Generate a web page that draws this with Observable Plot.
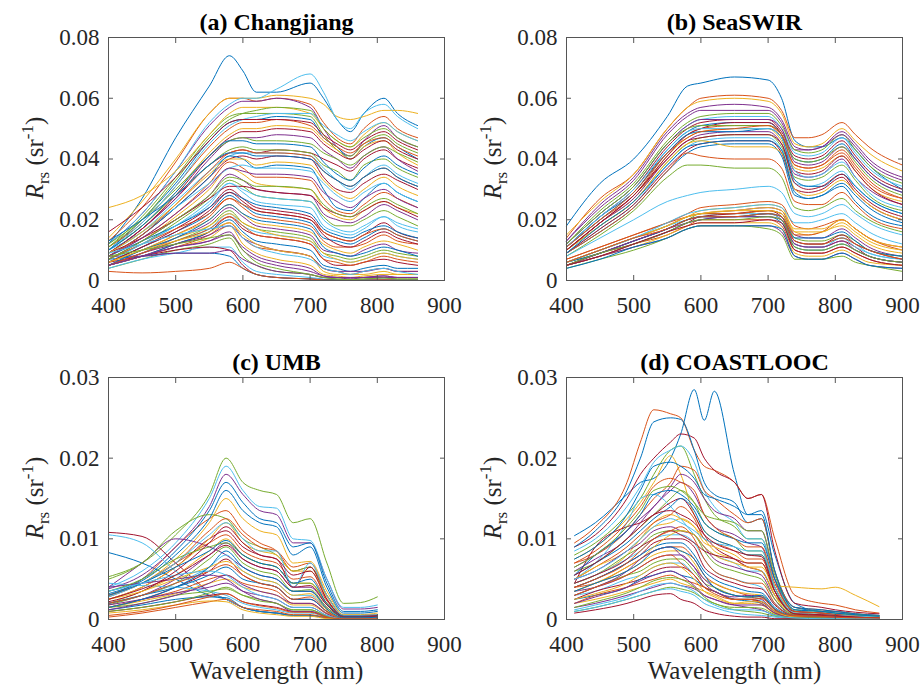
<!DOCTYPE html>
<html>
<head>
<meta charset="utf-8">
<script src="https://cdn.jsdelivr.net/npm/d3@7"></script>
<script src="https://cdn.jsdelivr.net/npm/@observablehq/plot@0.6"></script>
<style>
  html, body { margin: 0; padding: 0; background: #fff; }
  #fig { position: relative; width: 921px; height: 687px; background: #fff; overflow: hidden; }
  .panel { position: absolute; }
  .ylab { position: absolute; font-family: "Liberation Serif", Tinos, "Times New Roman", Times, "DejaVu Serif", "Noto Serif", serif; font-size: 25px; color: #262626;
          white-space: nowrap; transform: translate(-50%, -50%) rotate(-90deg); line-height: 1; }
  .ylab sub, .ylab sup { font-size: 17px; line-height: 0; }
</style>
</head>
<body>
<div id="fig"></div>
<script>
// ---------------- data (Rrs values in units of 1e-3 sr^-1) ----------------
const titles = ["(a) Changjiang", "(b) SeaSWIR", "(c) UMB", "(d) COASTLOOC"];
const xLabel = "Wavelength (nm)";
const xTicks = [400, 500, 600, 700, 800, 900];
const yTicksTop = [0, 0.02, 0.04, 0.06, 0.08];
const yTicksBottom = [0, 0.01, 0.02, 0.03];
const palette = ["#0072BD", "#D95319", "#EDB120", "#7E2F8E", "#77AC30", "#4DBEEE", "#A2142F"];

// (a) Changjiang
const wlA = [400, 450, 500, 550, 580, 600, 620, 650, 700, 720, 740, 760, 780, 810, 830, 860];
const rrsA = [
  [12,27,47,64,74,69,62,62,65,60,53,49,55,60,55,51],
  [13,24,39,55,60,60,59,60,58,52,47,45,50,54,50,47],
  [14,26,40,55,60,60,60,61,60,58,54,53,54,56,56,55],
  [12,22,36,51,57,59,59,60,57,50,44,41,46,51,47,44],
  [11,21,34,48,54,55,55,55,54,48,43,41,45,48,45,42],
  [12,22,36,52,58,60,60,63,68,62,53,50,55,58,54,50],
  [9,17,27,38,42,43,42,43,42,40,38,36,40,43,40,37],
  [10,20,32,46,52,53,53,54,53,47,44,40,44,47,44,40],
  [11,19,31,44,50,52,52,53,51,47,44,42,45,47,44,41],
  [10,18,29,42,48,50,50,51,50,46,43,40,44,46,42,38],
  [9,17,27,40,46,47,47,48,47,43,40,37,41,44,40,36],
  [10,18,28,38,43,44,43,43,42,38,36,33,38,40,37,34],
  [9,16,26,36,41,42,42,42,41,37,33,30,34,38,35,32],
  [8,15,24,34,40,41,40,41,40,34,30,29,32,35,33,30],
  [8,15,24,34,41,40,37,38,37,30,24,23,27,32,29,26],
  [8,14,22,32,39,37,34,34,33,27,23,22,25,29,27,24],
  [7,13,21,30,37,35,32,31,30,24,21,20,23,26,24,22],
  [7,13,20,28,35,33,30,29,28,22,20,19,21,25,23,20],
  [7,12,19,27,33,31,28,27,26,21,18,18,20,23,21,18],
  [7,12,18,25,32,29,26,25,24,18,16,15,17,21,18,16],
  [6,11,17,24,30,27,24,23,21,16,14,13,15,19,16,14],
  [6,11,16,22,28,25,22,21,19,14,13,12,14,17,15,13],
  [6,10,15,21,27,24,21,20,18,13,11,11,12,15,13,12],
  [6,10,15,20,25,22,19,18,16,12,10,9,11,13,12,10],
  [5,9,14,19,24,21,18,17,15,10,9,8,10,12,10,9],
  [5,9,13,18,23,19,17,16,14,9,8,7,8,10,9,8],
  [5,9,13,17,22,18,16,15,13,8,7,6,7,9,8,7],
  [5,8,12,16,21,17,15,14,12,7,5,5,6,7,6,5],
  [5,8,12,16,20,16,13,12,10,5,4,3,4,5,4,4],
  [5,8,11,15,19,14,11,10,8,4,3,2,3,4,3,3],
  [5,8,11,14,18,12,9,7,5,2,1.5,1,1.5,2,2,2],
  [5,8,11,13,16,10,7,5,3,1.5,1,0.5,1,1.5,1,1],
  [4,7,10,12,14,8,5,3,2,1,0.5,0.3,0.5,1,0.5,0.5],
  [4,7,9,11,11,6,3,2,1,0.5,0.3,0.2,0.3,0.5,0.3,0.3],
  [6,8,10,11,10,5,2,1,0.5,0.2,0.1,0.1,0.1,0.2,0.1,0.1],
  [7,8,9,9,8,4,2,1,0.5,0.3,0.2,0.1,0.1,0.1,0.1,0.1],
  [3,2.5,3,4,6,4,2,1,0.5,0.2,0.1,0.1,0.1,0.2,0.1,0.1],
  [24,28,36,48,55,57,57,57,55,50,46,44,48,52,49,46],
  [8,8,9,9,10,7,5,3,2,1,1,1,1,1,1,1],
  [12,20,30,41,46,47,46,46,45,42,40,38,41,44,42,39],
  [10,16,24,32,37,38,37,37,36,32,28,26,29,32,29,26],
  [9,14,20,27,31,31,30,29,28,24,22,21,23,26,24,21],
  [8,13,18,24,29,27,25,24,22,17,15,14,16,18,16,14],
  [7,12,17,22,27,25,23,22,20,16,14,13,15,17,15,13],
  [6,10,14,18,22,19,17,15,13,9,7,6,7,9,8,7],
  [5,9,12,15,18,14,12,10,8,4,3,3,3,4,3,3],
  [11,20,33,47,53,55,56,57,56,50,46,44,47,50,47,44],
  [10,19,31,45,51,53,54,55,55,51,48,46,49,52,49,46],
  [9,17,28,41,47,49,49,50,49,45,42,40,43,46,43,40],
  [10,18,29,41,46,46,45,45,44,39,35,33,37,41,38,35],
  [8,15,25,36,42,43,42,42,41,36,33,31,34,37,34,31],
  [9,16,25,35,40,40,38,39,38,33,29,27,30,34,31,28],
  [8,14,22,31,37,36,35,35,34,29,26,24,27,30,27,24],
  [7,13,20,28,34,33,31,31,30,25,22,21,24,27,25,22],
  [6,12,18,26,32,30,28,27,26,20,17,16,18,21,19,17],
  [6,11,16,23,29,26,23,22,20,15,12,11,13,16,14,12],
  [5,10,14,20,25,22,20,19,17,11,9,8,9,11,10,8],
  [5,9,13,17,21,18,15,14,12,7,6,5,6,8,7,6],
  [6,10,13,16,19,15,12,10,8,3,2,2,2,3,2,2],
  [5,8,11,13,15,11,8,6,4,1.5,1,0.8,1,1.5,1,1],
  [8,10,12,14,15,10,6,4,2,1,0.5,0.3,0.5,0.8,0.5,0.5],
  [9,12,15,17,18,14,11,9,7,4,3,2,3,4,3,2],
  [16,24,34,46,52,53,53,53,52,48,45,43,46,49,46,43],
  [13,20,28,38,42,42,41,41,40,36,33,31,34,37,34,31]
];

// (b) SeaSWIR
const wlB = [400, 450, 500, 550, 580, 600, 650, 700, 720, 740, 760, 780, 810, 830, 850, 900];
const rrsB = [
  [18,32,40,54,64,65,67,66,60,46,44,44,47,43,38,30],
  [14,27,35,50,57,60,61,60,56,47,47,48,52,48,44,38],
  [15,26,35,50,57,59,60,59,55,45,44,45,50,46,42,36],
  [13,24,33,48,54,56,56,56,52,43,43,44,49,45,40,34],
  [12,23,32,46,52,54,55,55,51,43,42,43,48,43,38,32],
  [12,22,31,45,51,53,54,54,50,42,41,42,47,42,37,31],
  [11,21,30,44,50,52,53,53,49,41,40,41,46,41,36,30],
  [11,21,29,43,49,51,52,52,48,40,39,40,45,40,35,29],
  [11,20,28,42,48,50,51,51,47,38,37,38,43,38,33,27],
  [10,19,27,41,47,49,50,50,46,37,36,37,41,36,31,26],
  [10,19,27,40,46,48,49,49,45,35,34,35,40,34,30,25],
  [10,18,26,39,45,47,48,48,44,34,33,34,38,33,28,23],
  [9,17,25,38,44,46,47,47,43,32,31,32,36,31,27,22],
  [9,17,25,37,43,45,46,46,42,30,29,30,34,29,25,20],
  [9,16,24,36,42,44,45,45,41,28,27,28,32,28,24,19],
  [9,16,24,36,42,41,40,40,37,26,25,25,29,25,21,17],
  [10,18,26,39,45,46,44,44,42,30,28,29,33,29,25,20],
  [12,22,31,45,51,53,53,53,50,39,38,39,44,40,35,29],
  [8,15,23,34,38,38,37,37,34,24,23,24,27,23,20,16],
  [8,14,20,26,28,29,30,31,29,22,21,22,25,22,19,15],
  [10,19,28,41,48,50,52,52,48,36,35,36,41,36,31,25],
  [11,20,29,42,48,49,49,50,47,33,31,31,35,31,27,22],
  [7,11,15,19,22,24,25,26,25,18,17,18,20,17,14,11],
  [6,10,14,18,21,23,24,25,24,16,15,16,18,15,12,9],
  [6,10,14,18,21,22,23,24,23,15,14,14,17,14,11,8],
  [6,9,13,17,20,22,22,23,22,14,13,13,15,13,10,8],
  [5,9,13,17,20,21,22,22,21,13,12,12,14,12,9,7],
  [5,9,12,16,19,21,21,22,20,12,11,11,13,11,8,6],
  [5,8,12,16,19,20,21,21,19,11,10,10,12,10,8,6],
  [5,8,12,15,18,20,20,20,18,10,9,9,11,9,7,5],
  [5,8,11,15,18,19,19,19,17,9,8,8,10,8,6,5],
  [5,8,11,14,17,18,18,18,16,8,7,7,9,7,5,4],
  [4,7,10,14,17,18,18,17,15,7,7,7,8,6,5,3],
  [6,10,14,18,20,21,21,22,20,12,11,11,14,11,9,7],
  [5,9,13,17,20,21,22,23,21,13,12,12,15,12,10,7],
  [6,9,13,17,20,21,21,22,21,14,14,14,16,13,10,8],
  [7,11,15,19,21,22,22,23,22,15,15,16,20,17,14,10],
  [6,10,14,18,21,22,23,24,23,17,17,17,20,17,14,11],
  [13,25,34,49,55,57,58,57,53,44,43,44,48,44,39,33],
  [12,22,31,45,50,51,51,51,48,40,39,40,44,39,34,28],
  [11,21,30,43,49,50,50,50,47,36,34,35,39,34,29,24],
  [10,19,28,40,46,47,48,48,45,32,30,31,35,30,26,21],
  [9,18,26,38,44,45,46,46,43,29,27,28,31,26,22,18],
  [11,20,29,42,47,49,50,51,48,38,37,38,42,37,32,27],
  [6,10,14,18,21,22,23,23,22,16,16,16,19,16,13,10],
  [5,9,13,17,19,20,21,21,20,12,11,11,13,10,8,6],
  [5,9,12,16,19,20,20,21,20,11,10,10,12,10,8,6],
  [6,10,14,19,22,23,24,25,24,19,19,20,22,19,16,12],
  [5,8,12,16,18,19,19,20,19,10,9,9,11,9,7,5],
  [4,7,11,14,17,18,18,18,17,8,7,7,9,7,5,4],
  [6,10,14,17,20,21,21,22,21,13,12,12,14,12,10,7]
];

// (c) UMB
const wlC = [400, 450, 500, 550, 575, 600, 625, 650, 675, 700, 725, 750, 775, 800];
const rrsC = [
  [8.3,7,5,3,2.5,1.5,1,0.8,0.5,0.5,0.2,0.1,0.1,0.1],
  [3,5,9,12.5,13.5,11,9.5,8.5,6,6.5,3,0.5,0.5,0.6],
  [3,4.5,7.5,12,15,12.5,11,10.5,7,7.2,3.5,0.6,0.6,0.8],
  [3.8,5.5,9,14,18,15.5,13.5,13,9.5,9.5,5,1.3,1.3,1.5],
  [5.3,7,10.5,15.5,20,17,16,15.5,12,12.5,7,2,2.1,2.8],
  [4,6,9.5,15,19,16,14,13.8,10,9.8,5,1.5,1.5,1.8],
  [10.8,10.3,7,3.5,2.5,1.5,1,0.8,0.5,0.5,0.3,0.1,0.1,0.1],
  [3.5,5,8.5,13.5,17,14.5,12.5,12,9,9.5,4.5,1,1,1.2],
  [2.8,4.5,7,9.5,10.5,8.5,7.5,7,5,5.3,2.3,0.4,0.4,0.5],
  [2,3.5,5.5,8.5,10,8,7,6.5,4.5,4.5,2,0.4,0.3,0.4],
  [4,7,10,9,8,6.5,5.5,5,3.5,3.5,1.5,0.3,0.3,0.3],
  [5,7,11,13,12.5,10,9,8,6,6.5,3,0.5,0.5,0.5],
  [10.5,9.5,6,3.5,2.5,1.5,1,0.8,0.5,0.5,0.3,0.1,0.1,0.1],
  [2.5,4,6.5,10,11,9,8,7.5,4,6.5,2.5,0.4,0.4,0.5],
  [3.2,4.8,8,12.5,16,13.5,12,11.5,8,9,4,0.8,0.8,1],
  [3,4.5,7,11,12.5,10.5,9,8.5,6.5,7,3,0.5,0.5,0.6],
  [2.5,4,6.5,10,12,9.5,8.5,8,6,6,2.8,0.5,0.4,0.5],
  [2,3,5,8,9.5,7.5,6.5,6,4,4,1.8,0.3,0.3,0.3],
  [1.8,3,4.5,7.5,9,7,6,5.5,3.5,3.7,1.5,0.3,0.3,0.3],
  [2,3,4.5,6.5,8,6,5,4.5,3,3,1.2,0.3,0.2,0.3],
  [1.5,2.5,4,6,7.5,5.5,4.5,4,2.5,2.5,1,0.2,0.2,0.2],
  [2,3,4,5.5,6.5,5,4.5,4,2.5,2.5,1,0.2,0.2,0.2],
  [1.5,2.5,3.5,5,5.5,4.5,4,3.5,2,2,0.8,0.2,0.2,0.2],
  [1.5,2.3,3.2,4.5,5,4,3.5,3,1.8,1.8,0.7,0.2,0.2,0.2],
  [1.8,2.5,3.3,4,4.5,3.5,3,2.5,1.5,1.5,0.5,0.1,0.1,0.1],
  [1.5,2,3,3.5,3.8,3,2.5,2,1.2,1.2,0.4,0.1,0.1,0.1],
  [4.5,4.2,4,3.5,3,2,1.5,1.2,0.8,0.8,0.3,0.1,0.1,0.1],
  [1,1.5,2.2,3,3.2,2.2,1.8,1.5,1,1,0.3,0.1,0.1,0.1],
  [1.2,1.8,2.5,2.8,2.7,1.5,1,0.8,0.5,0.5,0.2,0.1,0.1,0.1],
  [0.3,0.8,1.5,2.2,2.5,1.5,1.2,1,0.6,0.6,0.2,0.1,0.1,0.1],
  [0.8,1.2,1.8,2.3,2.2,1.2,0.8,0.6,0.4,0.4,0.1,0.05,0.05,0.05],
  [4,4.5,5,5.5,5,3.5,2.5,2,1,1,0.4,0.1,0.1,0.1],
  [3.5,5,7.5,9,9.5,8,7,6.5,4.5,4.5,2,0.3,0.3,0.3],
  [2.8,4.5,7,10.5,12,10,8.5,8.5,4,7,3,0.5,0.5,0.6],
  [2.2,3.5,6,9.5,11.5,9.5,8,7.5,5.5,6,2.5,0.4,0.4,0.5],
  [3,4.5,6.5,8.5,9.8,8,7,6.5,4.5,5,2,0.4,0.4,0.4],
  [2,3,4.5,6,6.8,5.5,4.5,4,2.5,2.8,1,0.2,0.2,0.2],
  [2.5,3.5,5,6.5,7.2,6,5,4.5,3,3.2,1.2,0.2,0.2,0.3],
  [1.2,2,3,4.5,5.5,4.3,3.5,3,2,2,0.7,0.1,0.1,0.2],
  [1,1.5,2.2,3.3,4,3,2.3,2,1.2,1.2,0.4,0.1,0.1,0.1],
  [3.5,4.5,5.5,6,5.5,4,3,2.5,1.5,1.5,0.5,0.1,0.1,0.1],
  [2.5,3.8,5.5,8,9.2,7.5,6.5,6,4,4.2,1.8,0.3,0.3,0.4],
  [1.5,2.5,4,6.5,8.5,6.5,5.5,5,3.5,3.5,1.3,0.2,0.2,0.3],
  [0.5,1,1.8,2.8,3.2,2.2,1.7,1.4,0.9,0.9,0.3,0.1,0.1,0.1]
];

// (d) COASTLOOC
const wlD = [412, 443, 490, 510, 530, 555, 570, 590, 605, 620, 650, 670, 690, 710, 740, 780, 800, 830, 865];
const rrsD = [
  [10.4,12,15.5,17,17.5,20,23,28.5,24.7,28.3,18,13,13.5,8,2,1,1,0.7,0.5],
  [9.5,11.5,17,22,26,25.5,25,21,19,18.5,17,15,15.5,10,3,2,1.8,1.2,0.8],
  [7.5,9,12.5,14.5,17,20.3,18,13,11,10,9,8,8,4,1,0.8,0.6,0.4,0.3],
  [6,7.5,10,12,14,16,17,15.5,13,11.5,10.5,9.5,9,4,0.8,0.6,0.5,0.4,0.3],
  [8,9.5,13,15,18,21,21.5,18,15,13,11.5,10,10,5,1,0.8,0.6,0.5,0.4],
  [8.5,10,14,16.5,19.5,21,21.5,19.5,16,14,12,10,10,5,1.2,1,0.8,0.6,0.4],
  [9,10.5,15,18,20,22,23,22.5,20,18.5,17,15,15.5,8.5,2,1.5,1.2,0.9,0.7],
  [9,11,16,20,24.5,25,24.8,21,17,15.5,14.5,12,12.5,6,1.5,1,0.8,0.6,0.5],
  [7,8,11,13,15,17,19,18.5,16,15,13,12,12.5,6,1.5,1.2,1,0.7,0.5],
  [4.5,5.5,8,10,12,13,12.5,11.5,10,8.5,7.5,6.5,6.5,4.2,4,3.8,4,3,1.6],
  [6.5,8,11,12.5,14,16.5,18,17,15,13.5,12.5,11,11,5,1,0.8,0.6,0.4,0.3],
  [6,7,10,11.5,13,15,16,14.5,12,11,10,8.5,8.5,4,0.8,0.6,0.5,0.4,0.3],
  [5,7,12,15,15.5,14,12.5,10.5,9,8,7,6,6,3,1,0.8,0.6,0.4,0.3],
  [4.5,9,11.5,12,13,14.5,15,13,10.5,9,7.5,6.5,6,3,1,0.8,0.6,0.4,0.3],
  [5.5,7,9.5,11,12.5,14,15,13.5,11,10,9,8,8,3.5,0.7,0.6,0.5,0.3,0.2],
  [5,6.5,9,10.5,12,13,14,12.5,10,9.5,8.5,7.5,7.5,3.5,0.7,0.5,0.4,0.3,0.2],
  [5,6.5,8.5,10,11.5,12,12.5,11.5,9.5,9,8,7,7,3,0.6,0.5,0.4,0.3,0.2],
  [5,6,8.5,9.5,11,11.5,11,10.5,9,7.5,6.5,6,5.5,2.5,0.5,0.4,0.3,0.2,0.2],
  [4.5,5.5,8,9,10.5,11,11,10.5,8.5,7,6,5.5,5,2.5,0.6,0.5,0.4,0.3,0.2],
  [4.5,5.5,7.5,8.5,10,10.5,10.5,9.5,7.5,6,5,4.5,4,2,0.5,0.4,0.3,0.2,0.2],
  [4,5,7,8,9.5,10,10,9,6.5,5.5,4.5,4,3.8,1.8,0.5,0.4,0.3,0.2,0.2],
  [4,5,7,8,9,9.5,9.5,8,6,5,4,3.5,3.3,1.5,0.5,0.4,0.3,0.2,0.2],
  [4,4.5,6.5,7.5,8.5,9,9,7.5,5.5,4.5,3.5,3,2.8,1.3,0.4,0.3,0.3,0.2,0.2],
  [3.5,4.5,6,7,8,8.5,8.5,7,5,4.5,3.5,3.2,3,1.3,0.4,0.3,0.3,0.2,0.2],
  [3.5,4,5.5,6.5,7.5,8,8,6.5,5,4,3,2.8,2.5,1,0.4,0.3,0.2,0.2,0.1],
  [3,4,5.5,6,7,7.5,7.5,6,4.5,4,3,2.8,2.8,1.2,0.3,0.3,0.2,0.2,0.1],
  [3,3.5,5,5.5,6.5,7,7,5.5,4,3.5,2.5,2.5,2.3,1,0.3,0.3,0.2,0.2,0.1],
  [2.5,3.5,4.5,5,6,6.5,6.5,5.5,4,3.5,2.5,2.5,2.2,1,0.3,0.2,0.2,0.2,0.1],
  [2.5,3,4,5,5.5,6,5.5,5,4,3.5,2.5,2.3,2,0.8,0.3,0.2,0.2,0.2,0.1],
  [2,3,4,4.5,5,5.5,5,4.5,4,3.5,2.5,2.5,2,0.8,0.3,0.2,0.2,0.2,0.1],
  [2,2.5,3.5,4,4.5,5,4.5,4,3.5,3,2,2,1.8,0.7,0.2,0.2,0.1,0.1,0.1],
  [1.5,2,3,3.5,4,4.5,4.2,3.8,3,2.5,1.8,1.5,1.2,0.5,0.2,0.1,0.1,0.1,0.1],
  [1,1.5,2.5,3,3.5,4,3.8,3.3,2.5,2,1.2,1,0.8,0.4,0.2,0.1,0.1,0.1,0.1],
  [1,1.5,2.5,3,3.5,3.8,3.5,3,2,1.5,0.8,0.6,0.5,0.3,0.1,0.1,0.1,0.1,0.1],
  [0.8,1.2,2,2.5,3,3.2,2.5,2,1.2,0.8,0.4,0.3,0.3,0.1,0.1,0.1,0.1,0.1,0.1],
  [5.5,8,11,13,15.5,16,15.5,14,12,11,10,9.5,9.5,5,1.5,1.2,1,0.7,0.5],
  [7,8.5,12,14,16.5,17.5,17,16,13,11.5,10,9,9,4.5,1,0.8,0.6,0.4,0.3],
  [3.5,4.5,6.5,7.5,9,10.5,11,10.5,9,8,7,6.5,6,3,0.8,0.6,0.5,0.4,0.3],
  [3,4,6,7.5,8.5,9,8,6.5,4.5,3.5,2.8,3,2.8,1.2,0.4,0.3,0.2,0.2,0.1],
  [6.5,8,11.5,13.5,16,16.5,16,14.5,13,12.5,12,11,11,5.5,1.2,1,0.8,0.6,0.4],
  [5,6,8.5,10,11.5,12.5,12,11,10,9.5,9,8.5,8.5,4,0.8,0.6,0.5,0.4,0.3],
  [4.5,5.5,7.5,9,10,11,10.5,9.5,8.5,8,7.5,7,7,3.5,0.7,0.6,0.5,0.3,0.2],
  [3.5,4.5,6,7,8.5,9,8.5,7.5,5.5,4,3,2.8,3,1.3,0.4,0.3,0.3,0.2,0.1],
  [3,4,5.5,6.5,7.5,8,7,5.5,4,3.2,2.5,2.5,2.6,1.2,0.4,0.3,0.2,0.2,0.1],
  [2.5,3.2,4.5,5.5,6.5,7,6.5,5,3.5,2.8,2,2.2,2.2,1,0.3,0.2,0.2,0.1,0.1],
  [2,2.8,4,4.8,5.5,6,5.5,4.2,3,2.5,1.8,1.8,1.8,0.8,0.2,0.2,0.2,0.1,0.1],
  [1.5,2.2,3.3,4,4.8,5.2,5,4,2.8,2,1.5,1.5,1.4,0.6,0.2,0.2,0.1,0.1,0.1],
  [1.2,1.8,2.8,3.5,4.2,4.5,4.2,3.5,2.5,1.8,1.2,1.2,1.1,0.5,0.2,0.1,0.1,0.1,0.1],
  [5.5,7,10,11.5,13,13.5,13,12,10.5,9.5,8.5,8,7.8,3.5,0.7,0.5,0.4,0.3,0.2],
  [7.5,9,13,16,19,19.5,19,17.5,15.5,15,14,13,13,6,1.2,1,0.8,0.6,0.4],
  [4,5,7,8.5,10,11,11.5,10,7.5,6,5,4.5,4.5,2,0.5,0.4,0.3,0.2,0.2]
];

// ---------------- drawing ----------------
const UNIT = 1000; // stored values are in 1e-3 sr^-1
const FONT = "\"Liberation Serif\", Tinos, \"Times New Roman\", Times, \"DejaVu Serif\", \"Noto Serif\", serif";
function rows(wl, rrs) {
  const out = [];
  rrs.forEach((s, i) => s.forEach((v, j) => out.push({wl: wl[j], v: v / UNIT, id: i, color: palette[i % palette.length]})));
  return out;
}
const fmtY = d => d === 0 ? "0" : d.toFixed(2);

const panels = [
  {title: titles[0], wl: wlA, rrs: rrsA, yTicks: yTicksTop, left: 0,   top: 0,   width: 460, height: 320, mL: 108, mR: 16, mT: 37, mB: 40, xlab: false, ylx: 34,  yly: 158},
  {title: titles[1], wl: wlB, rrs: rrsB, yTicks: yTicksTop, left: 460, top: 0,   width: 461, height: 320, mL: 106, mR: 19, mT: 37, mB: 40, xlab: false, ylx: 492, yly: 158},
  {title: titles[2], wl: wlC, rrs: rrsC, yTicks: yTicksBottom, left: 0,   top: 320, width: 460, height: 367, mL: 108, mR: 16, mT: 57, mB: 68, xlab: true, ylx: 34,  yly: 498},
  {title: titles[3], wl: wlD, rrs: rrsD, yTicks: yTicksBottom, left: 460, top: 320, width: 461, height: 367, mL: 106, mR: 19, mT: 57, mB: 68, xlab: true, ylx: 492, yly: 498}
];

const fig = document.getElementById("fig");
for (const p of panels) {
  const ymax = p.yTicks[p.yTicks.length - 1];
  const marks = [
    Plot.line(rows(p.wl, p.rrs), {x: "wl", y: "v", z: "id", stroke: "color", strokeWidth: 1, curve: "monotone-x"}),
    Plot.frame({stroke: "#555", strokeWidth: 1}),
    Plot.axisX(xTicks, {anchor: "bottom", tickSize: 0, tickPadding: 16, fontSize: 23, label: null, tickFormat: d => String(d)}),
    Plot.axisX(xTicks, {anchor: "bottom", tickSize: -5, tickFormat: () => "", label: null, stroke: "#555"}),
    Plot.axisX(xTicks, {anchor: "top", tickSize: -5, tickFormat: () => "", label: null, stroke: "#555"}),
    Plot.axisY(p.yTicks, {anchor: "left", tickSize: 0, tickPadding: 9, fontSize: 23, label: null, tickFormat: fmtY}),
    Plot.axisY(p.yTicks, {anchor: "left", tickSize: -5, tickFormat: () => "", label: null, stroke: "#555"}),
    Plot.axisY(p.yTicks, {anchor: "right", tickSize: -5, tickFormat: () => "", label: null, stroke: "#555"}),
    Plot.text([p.title], {text: d => d, frameAnchor: "top", lineAnchor: "middle", dy: -15, fontSize: 24, fontWeight: "bold", fill: "#000"})
  ];
  if (p.xlab) {
    marks.push(Plot.text([xLabel], {text: d => d, frameAnchor: "bottom", lineAnchor: "middle", dy: 51, fontSize: 25, fill: "#262626"}));
  }
  const chart = Plot.plot({
    width: p.width,
    height: p.height,
    marginLeft: p.mL, marginRight: p.mR, marginTop: p.mT, marginBottom: p.mB,
    x: {domain: [400, 900], label: null},
    y: {domain: [0, ymax], label: null},
    color: {type: "identity"},
    style: {fontFamily: FONT, fontSize: "23px", color: "#262626", background: "transparent", overflow: "visible"},
    marks
  });
  chart.querySelectorAll("text").forEach(t => t.style.fontFamily = FONT);
  const wrap = document.createElement("div");
  wrap.className = "panel";
  wrap.style.left = p.left + "px";
  wrap.style.top = p.top + "px";
  wrap.appendChild(chart);
  fig.appendChild(wrap);

  const yl = document.createElement("div");
  yl.className = "ylab";
  yl.style.left = p.ylx + "px";
  yl.style.top = p.yly + "px";
  yl.innerHTML = "<i>R</i><sub>rs</sub> (sr<sup>-1</sup>)";
  fig.appendChild(yl);
}
</script>
</body>
</html>
